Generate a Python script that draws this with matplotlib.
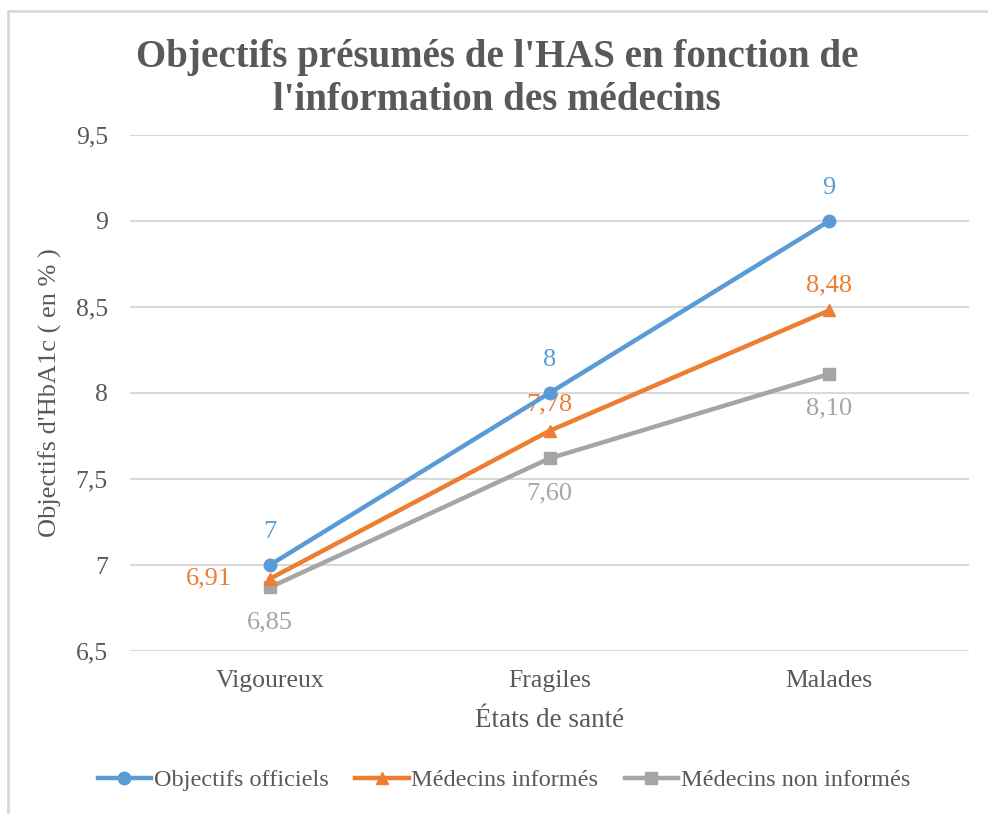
import matplotlib.pyplot as plt
from matplotlib.patches import Rectangle

plt.rcParams['font.family'] = ['Liberation Serif', 'DejaVu Serif']

# Data
categories = ['Vigoureux', 'Fragiles', 'Malades']
officiels = [7.0, 8.0, 9.0]
informes = [6.92, 7.78, 8.48]
non_informes = [6.87, 7.62, 8.11]
labels_officiels = ['7', '8', '9']
labels_informes = ['6,91', '7,78', '8,48']
labels_non_informes = ['6,85', '7,60', '8,10']
yticks = [6.5, 7, 7.5, 8, 8.5, 9, 9.5]
ytick_labels = ['6,5', '7', '7,5', '8', '8,5', '9', '9,5']

blue = '#5B9BD5'
orange = '#ED7D31'
gray = '#A5A5A5'
text_gray = '#595959'

fig = plt.figure(figsize=(9.88, 8.14), dpi=100)
ax = fig.add_axes([0.1316, 0.2002, 0.8492, 0.634])

# outer chart frame
fig.patches.append(Rectangle((8 / 988, -0.1), 1.2, 1 - 11 / 814 + 0.1,
                             transform=fig.transFigure, fill=False,
                             edgecolor='#D9D9D9', linewidth=2))

x = range(len(categories))
ax.plot(x, officiels, color=blue, linewidth=3.2, marker='o', markersize=9,
        label='Objectifs officiels', zorder=5)
ax.plot(x, informes, color=orange, linewidth=3.2, marker='^', markersize=9,
        label='Médecins informés', zorder=4)
ax.plot(x, non_informes, color=gray, linewidth=3.2, marker='s', markersize=8,
        label='Médecins non informés', zorder=3)

# data labels
for i, v in enumerate(officiels):
    ax.annotate(labels_officiels[i], (i, v), xytext=(0, 24), textcoords='offset points',
                ha='center', va='center', color=blue, fontsize=19)
inf_offsets = [(-44, 0), (0, 19), (0, 18)]
for i, v in enumerate(informes):
    ax.annotate(labels_informes[i], (i, v), xytext=inf_offsets[i], textcoords='offset points',
                ha='center', va='center', color=orange, fontsize=19)
for i, v in enumerate(non_informes):
    ax.annotate(labels_non_informes[i], (i, v), xytext=(0, -25), textcoords='offset points',
                ha='center', va='center', color=gray, fontsize=19)

ax.set_xlim(-0.5, 2.5)
ax.set_ylim(6.5, 9.5)
ax.set_xticks(list(x))
ax.set_xticklabels(categories)
ax.set_yticks(yticks)
ax.set_yticklabels(ytick_labels)
ax.tick_params(length=0, labelsize=18.5, labelcolor=text_gray)
ax.tick_params(axis='y', pad=16)
ax.tick_params(axis='x', pad=14)
ax.grid(axis='y', color='#D9D9D9', linewidth=1.5)
ax.set_axisbelow(True)
for s in ax.spines.values():
    s.set_visible(False)

ax.set_xlabel('États de santé', fontsize=19.5, color=text_gray, labelpad=11)
ax.set_ylabel("Objectifs d'HbA1c ( en % )", fontsize=19, color=text_gray, labelpad=10)

fig.text(0.503, 0.903, "Objectifs présumés de l'HAS en fonction de\nl'information des médecins",
         ha='center', va='center', fontsize=28, fontweight='bold', color=text_gray,
         linespacing=1.2)

ax.legend(loc='center', bbox_to_anchor=(0.51, 0.0415), bbox_transform=fig.transFigure,
          ncol=3, frameon=False, fontsize=17.5, handlelength=2.2, handletextpad=0.1,
          columnspacing=1.1, labelcolor=text_gray)

plt.savefig('out.png', dpi=100)
